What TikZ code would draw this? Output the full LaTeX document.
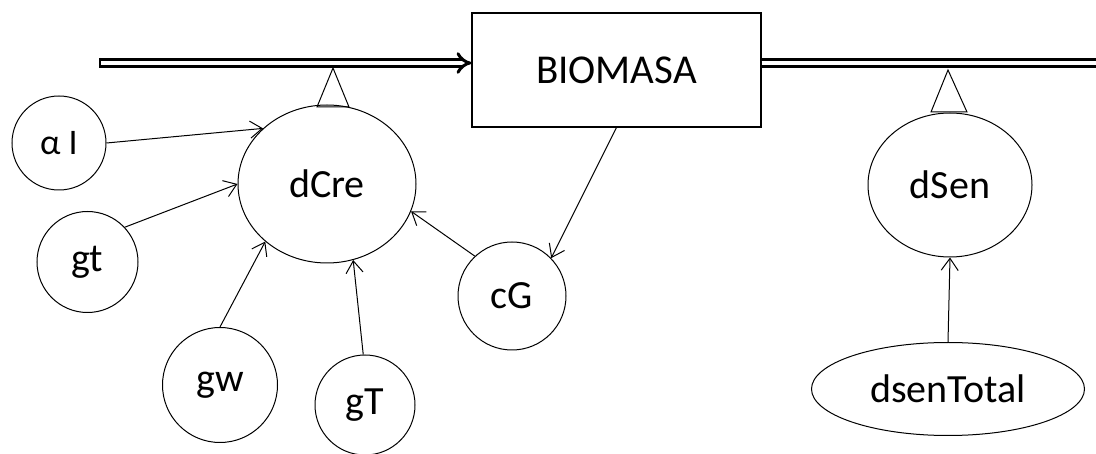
\documentclass[tikz,border=0pt]{standalone}
\usepackage{fontspec}
\setmainfont{Carlito}
\usetikzlibrary{shapes.geometric,arrows.meta}

\tikzset{
  var/.style={circle,draw,line width=1pt,inner sep=0pt,font=\fontsize{40}{46}\selectfont},
  aux/.style={ellipse,draw,line width=1pt,inner sep=0pt,font=\fontsize{40}{46}\selectfont},
  link/.style={line width=1pt,-{Straight Barb[length=12pt,width=17pt,line width=1pt]}},
  pipe/.style={double,double distance=4pt,line width=3pt}
}

\begin{document}
\begin{tikzpicture}[x=1pt,y=-1pt]
\useasboundingbox (0,0) rectangle (1096,454);
\node[draw,line width=1.2pt,minimum width=289pt,minimum height=114pt,font=\fontsize{41}{48}\selectfont] (bio) at (616.5,70) {BIOMASA};
\node[aux,minimum width=178pt,minimum height=158pt] (dCre) at (327,184) {dCre};
\node[aux,minimum width=164pt,minimum height=144pt] (dSen) at (950,185) {dSen};
\node[aux,minimum width=273pt,minimum height=93pt] (dsT) at (948,389) {dsenTotal};
\node[var,minimum size=94pt,font=\fontsize{36}{42}\selectfont] (al) at (59,143) {α I};
\node[var,minimum size=101pt] (gt) at (87.5,262) {gt};
\node[var,minimum size=115pt] (gw) at (220,385) {gw};
\node[var,minimum size=100pt] (gT) at (365,405) {gT};
\node[var,minimum size=108pt] (cG) at (512,296) {cG};
\coordinate (in) at (100,63);
\coordinate (out) at (1100,63);
% flujos
\draw[pipe,-{Implies}] (in) -- (bio.west |- in);
\draw[line width=1.5pt] (in) ++(0,-5) -- ++(0,10);
\draw[pipe] (bio.east |- out) -- (out);
% valvulas
\draw[line width=1pt] (333,68) -- (317,107) -- (349,107) -- cycle;
\draw[line width=1pt] (948,70) -- (931,112) -- (967,112) -- cycle;
\draw[link] (al.0) -- (dCre.139);
\draw[link] (gt.43) -- (dCre.180);
\draw[link] (gw.90) -- (dCre.223);
\draw[link] (gT.92) -- (dCre.289);
\draw[link] (cG.133) -- (dCre.342);
\draw[link] (bio.south) -- (cG.44);
\draw[link] (dsT.north) -- (dSen.south);
\end{tikzpicture}
\end{document}
